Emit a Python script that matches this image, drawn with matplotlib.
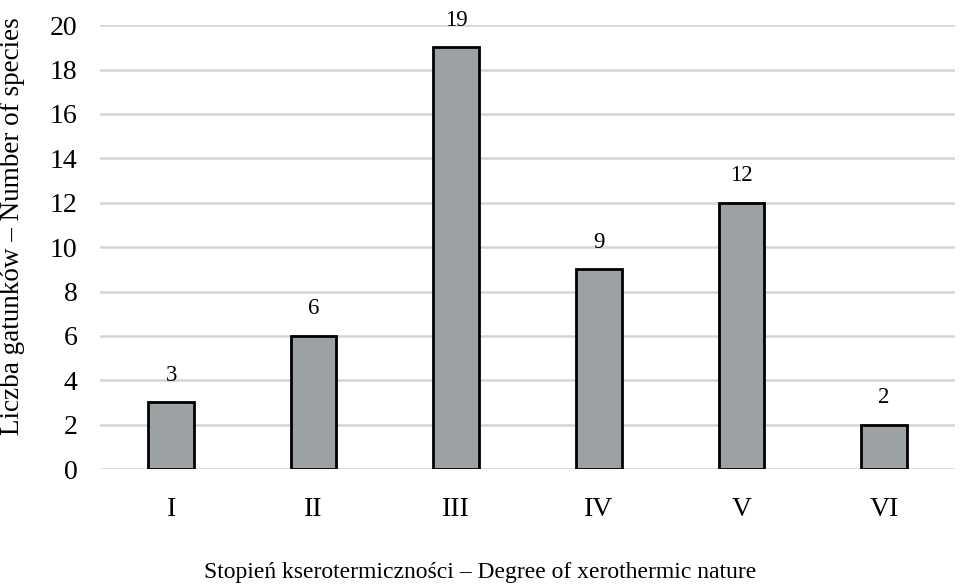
import matplotlib
matplotlib.use("Agg")
import matplotlib.pyplot as plt

categories = ["I", "II", "III", "IV", "V", "VI"]
counts = [3, 6, 19, 9, 12, 2]
yticks = list(range(0, 21, 2))

plt.rcParams['font.family'] = ['Liberation Serif', 'DejaVu Serif']

fig = plt.figure(figsize=(9.6, 5.87), dpi=100)
ax = fig.add_axes([0.104, 0.201, 0.891, 0.756])

x = range(len(categories))
bars = ax.bar(x, counts, width=0.32, color="#9ca1a4", edgecolor="black",
              linewidth=2, zorder=3)
for xi, v in zip(x, counts):
    ax.annotate(str(v), (xi, v), xytext=(0, 12), textcoords="offset points",
                ha="center", va="bottom", fontsize=16.5)

ax.set_xlim(-0.5, len(categories) - 0.5)
ax.set_ylim(0, 20)
ax.set_yticks(yticks)
ax.set_xticks(list(x))
ax.set_xticklabels(categories)
ax.yaxis.grid(True, color="#d3d6d8", linewidth=1.8, zorder=0)
ax.set_axisbelow(True)
for s in ax.spines.values():
    s.set_visible(False)
ax.tick_params(axis="both", length=0, labelsize=20)
ax.tick_params(axis="x", pad=20)
ax.tick_params(axis="y", pad=16)

fig.text(0.013, 0.615, "Liczba gatunków – Number of species",
         rotation=90, ha="center", va="center", fontsize=19.5)
fig.text(0.5, 0.024, "Stopień kserotermiczności – Degree of xerothermic nature",
         ha="center", va="center", fontsize=17)

fig.savefig("out.png", dpi=100)
